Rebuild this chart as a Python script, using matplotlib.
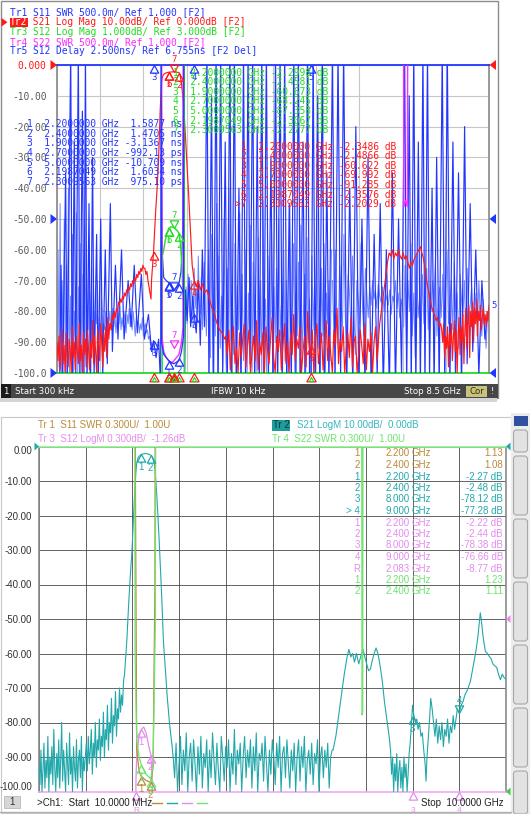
import numpy as np
import matplotlib
matplotlib.use("Agg")
import matplotlib.pyplot as plt
import matplotlib.transforms as mtransforms
from matplotlib.patches import Rectangle, Polygon, FancyBboxPatch

# =========================
# DATA (read off the two VNA screens)
# =========================
# --- top screen: 300 kHz .. 8.5 GHz, values in grid units (dB grid of Tr2)
F1_START, F1_STOP = 0.0003, 8.5

hdr_top = [
    "Tr1 S11 SWR 500.0m/ Ref 1.000 [F2]",
    "Tr2 S21 Log Mag 10.00dB/ Ref 0.000dB [F2]",
    "Tr3 S12 Log Mag 1.000dB/ Ref 3.000dB [F2]",
    "Tr4 S22 SWR 500.0m/ Ref 1.000 [F2]",
    "Tr5 S12 Delay 2.500ns/ Ref 6.755ns [F2 Del]",
]
top_ylabels = ["-100.0", "-90.00", "-80.00", "-70.00", "-60.00", "-50.00",
               "-40.00", "-30.00", "-20.00", "-10.00", "0.000"]

# Tr2 S21 (dB), noisy segments on a uniform sweep + the filter skirt
s21_seg1 = [-90, -96, -88, -99, -93, -86, -97, -91, -100, -87, -94, -98, -89, -92, -100, -85, -95, -90,
            -99, -88, -93, -97, -84, -96, -91, -100, -87, -94, -89, -98, -86, -92, -99, -90, -95, -83,
            -97, -88, -93, -100, -86, -91, -96, -84, -90, -98, -87, -93, -85, -95, -82, -89, -84]
s21_seg2 = [-84, -86, -81, -83, -80, -82, -79, -80, -77, -78, -76, -77, -75, -76, -74, -75, -73, -74,
            -72, -73, -71, -72, -70, -71, -69, -70, -68, -69, -67, -68, -66, -67, -65, -66, -66, -68,
            -67, -70, -72, -74, -76]
s21_band_f = [1.86, 1.90, 1.94, 1.97, 2.00, 2.03, 2.06, 2.08, 2.10, 2.13, 2.16, 2.20, 2.25, 2.30, 2.35,
              2.40, 2.42, 2.45, 2.48, 2.51, 2.55, 2.59, 2.62, 2.66, 2.70, 2.74, 2.78, 2.82, 2.86, 2.90,
              2.95, 3.00, 3.05, 3.10, 3.15, 3.20, 3.25, 3.30]
s21_band_v = [-70, -60.6, -48, -40, -30, -15, -5, -3.6, -3.0, -2.7, -2.5, -2.35, -2.25, -2.2, -2.3,
              -2.49, -3, -6, -11, -18, -30, -42, -52, -65, -70, -72, -70, -73, -71, -74,
              -73, -76, -79, -81, -84, -86, -87, -89]
s21_seg4 = [-88, -94, -86, -99, -90, -85, -97, -92, -100, -87, -95, -89, -84, -98, -91, -86, -100, -93,
            -88, -96, -83, -99, -90, -94, -87, -100, -85, -92, -97, -89, -82, -95, -100, -88, -93, -86,
            -99, -91, -84, -97, -90, -100, -87, -94, -81, -96, -89, -92, -85, -100, -93, -88, -98, -80,
            -91, -95, -86, -100, -89, -84, -97, -92, -87, -99, -90, -83, -96, -88, -94, -100, -86, -91,
            -79, -97, -89, -93, -85, -100, -92, -87, -95, -82, -98, -90, -88, -100, -94, -86, -91, -97,
            -84, -99, -89, -93, -87, -100, -90, -85, -96, -88]
s21_seg5 = [-84, -80, -76, -72, -68, -64, -61, -62, -60, -63, -61, -62, -60, -62, -63, -61, -63, -62,
            -64, -66, -64, -65, -63, -62, -61, -60, -59, -61, -63, -66, -70, -73, -76, -78, -80, -81,
            -83, -82, -85, -84]
s21_seg6 = [-86, -90, -84, -95, -88, -92, -85, -98, -87, -91, -84, -96, -89, -83, -93, -86, -100, -88,
            -82, -94, -85, -90, -81, -97, -86, -79, -92, -83, -78, -95, -80, -85, -77, -90, -79, -84,
            -76, -88, -80, -83, -78, -86, -82, -79, -84, -81, -85, -80, -83, -78]

# Tr3 S12 log mag (grid units)
s12t_f = [0.0003, 2.07, 2.075, 2.10, 2.13, 2.16, 2.20, 2.25, 2.30, 2.35, 2.40, 2.43, 2.46, 2.48, 2.50,
          2.503, 2.506, 8.5]
s12t_v = [-101, -101, -62, -60, -57, -55, -53, -52.5, -52.8, -53.5, -54.6, -58, -66, -75, -78, 5, -101, -101]

# Tr4 S22 SWR (grid units)
s22t_f = [0.0003, 2.06, 2.065, 2.10, 2.15, 2.20, 2.25, 2.30, 2.35, 2.40, 2.45, 2.48, 2.485, 6.82, 6.825,
          6.86, 6.895, 6.90, 8.5]
s22t_v = [5, 5, -88, -93, -95, -96, -97, -96, -95, -94, -90, -85, 5, 5, -46, -44, -46, 5, 5]

# Tr1 S11 SWR (grid units)
s11t_f = [0.0003, 2.05, 2.055, 2.10, 2.20, 2.30, 2.40, 2.45, 2.49, 2.495, 8.5]
s11t_v = [5, 5, -90, -94, -96, -97, -96, -93, -88, 5, 5]

# Tr5 S12 delay (grid units), big swings
dly_f = [0.05, 0.08, 0.11, 0.17, 0.20, 0.27, 0.30, 0.34, 0.37, 0.42, 0.45, 0.50, 0.53, 0.56, 0.59, 0.63,
         0.66, 0.70, 0.73, 0.78, 0.81, 0.86, 0.90, 0.95, 0.99, 1.05, 1.09, 1.15, 1.20, 1.27, 1.32, 1.40,
         1.46, 1.52, 1.58, 1.66, 1.72, 1.80, 1.86, 1.90,
         1.95, 2.00, 2.04, 2.05, 2.07, 2.10, 2.15, 2.20, 2.25, 2.30, 2.35, 2.40, 2.44, 2.47, 2.49, 2.51,
         2.53, 2.56, 2.60, 2.63, 2.67, 2.70, 2.74, 2.78, 2.82, 2.86, 2.90,
         2.95, 2.99, 3.04, 3.08, 3.13, 3.17, 3.22, 3.26, 3.31, 3.35, 3.40, 3.44, 3.49, 3.53, 3.58, 3.62,
         3.67, 3.71, 3.76, 3.80, 3.85, 3.89, 3.94, 3.98, 4.03, 4.07, 4.12, 4.16, 4.21, 4.25, 4.30, 4.34,
         4.39, 4.43, 4.48, 4.52, 4.57, 4.61, 4.66, 4.70, 4.75, 4.79, 4.84, 4.88, 4.93, 4.97, 5.00, 5.04,
         5.08, 5.13, 5.17, 5.22, 5.26, 5.31, 5.35,
         5.42, 5.47, 5.53, 5.58, 5.64, 5.70, 5.76, 5.82, 5.88, 5.94, 6.00, 6.06, 6.12, 6.18, 6.24, 6.30,
         6.36, 6.42, 6.48, 6.54, 6.60, 6.66, 6.72, 6.78,
         6.84, 6.88, 6.93, 6.97, 7.02, 7.06, 7.11, 7.15, 7.20, 7.24, 7.29, 7.33, 7.38, 7.42, 7.47,
         7.52, 7.58, 7.63, 7.68, 7.73, 7.79, 7.84, 7.90, 7.96, 8.02, 8.07, 8.13, 8.18, 8.24, 8.30, 8.36,
         8.42, 8.47]
dly_v = [-105, -65, -105, -35, -105, 5, -105, -25, -101, 5, -105, -15, -105, 5, -105, -45,
         -105, -30, -101, -55, -105, -50, -101, -60, -97, -45, -93, -65, -89, -60, -89, -70,
         -85, -65, -87, -68, -89, -81, -93, -89.5,
         -95, -89, -105, 5, -61, -69, -70, -70.7, -71.8, -73.1, -72.2, -71.1, -67, -57, 5, -105,
         -73, -83, -69, -85, -75, -81, -87, -70, -91, -60, -85,
         5, -105, -10, -105, 5, -105, 5, -101, -25, -105, 5, -105, 5, -105, -40, -105,
         5, -105, 5, -97, 5, -105, -20, -105, 5, -105, 5, -101, -30, -105, 5, -105,
         5, -105, 5, -105, -45, -105, 5, -105, 5, -101, -25, -105, 5, -105, -105, 5,
         -105, -10, -105, 5, -105, -35, -105,
         5, -105, 5, -101, 5, -105, -40, -105, -20, -105, -50, -105, -30, -105, -55, -101,
         -45, -105, -60, -105, -35, -105, -50, -101,
         5, -105, -10, -105, 5, -105, -25, -105, 5, -105, 5, -101, -40, -105, -30,
         -105, 5, -105, 5, -105, -25, -101, -35, -105, -20, -97, -45, -93, -60, -101, -70,
         -89, -81]
# finer (lighter) delay noise, uniform sweep segments
dlyn_seg = [
    (0.0003, 1.0, [-95, -60, -98, -45, -100, -70, -90, -50, -100, -65, -85, -40, -100, -75, -95, -55, -100,
                   -80, -90, -48, -100, -72, -88, -58, -100, -68, -92, -52, -98, -78, -86, -62, -100, -74,
                   -90, -66, -96, -80, -84, -70, -94, -82, -88, -76, -92, -84, -86, -80, -90, -83]),
    (1.02, 1.9, [-84, -80, -86, -82, -79, -85, -81, -87, -83, -80, -84, -78, -86, -82, -85, -80, -83, -87,
                 -81, -84, -79, -85, -82, -86, -80, -84, -88, -82, -85, -83, -87, -84, -86, -82, -88, -85,
                 -84, -87, -86, -89, -88, -91, -90, -94, -90]),
    (2.52, 3.0, [-80, -72, -84, -68, -78, -82, -70, -76, -85, -66, -79, -73, -83, -62, -77, -81, -69, -86,
                 -74, -64, -80, -88, -71, -60, -82]),
    (3.02, 5.4, [-95, -55, -100, -70, -88, -45, -100, -62, -92, -75, -98, -50, -85, -100, -66, -90, -40,
                 -100, -78, -94, -58, -100, -72, -86, -48, -100, -68, -96, -82, -60, -100, -74, -90, -52,
                 -100, -64, -88, -80, -100, -56, -92, -70, -100, -44, -86, -76, -100, -62, -94, -84, -54,
                 -100, -72, -90, -66, -100, -50, -88, -78, -100, -60, -96, -70, -84, -100, -46, -92, -80,
                 -58, -100, -74, -88, -64, -100, -52, -94, -82, -68, -100, -56, -90, -76, -100, -62, -86,
                 -72, -98, -48, -92, -80, -100, -66, -88, -58, -100, -74, -84, -70, -96, -60]),
    (5.42, 6.8, [-70, -88, -60, -80, -92, -65, -78, -85, -55, -82, -90, -68, -75, -86, -62, -80, -94, -70,
                 -76, -84, -58, -79, -88, -66, -74, -82, -72, -78, -70, -76, -73, -79, -71, -75, -77, -72,
                 -80, -74, -76, -78, -73, -81, -75, -77, -70, -79, -74, -82, -76, -80]),
    (6.82, 8.5, [-85, -65, -92, -70, -80, -58, -88, -74, -95, -62, -82, -76, -90, -68, -84, -72, -66, -86,
                 -74, -80, -70, -78, -64, -88, -76, -72, -82, -68, -90, -74, -60, -84, -78, -70, -86, -64,
                 -80, -74, -92, -68, -76, -82, -70, -88, -66, -84, -78, -72, -90, -80, -74, -86, -70, -82,
                 -88, -76, -84, -92, -80, -86]),
]

# top markers
mk_ghz = [2.2, 2.4, 1.9, 2.7, 5.0, 2.1987049, 2.3009563]
s21_mk = [-2.3486, -2.4866, -60.622, -69.992, -91.285, -2.3576, -2.2029]
s12_mk = [-2.2998, -2.4581, -60.673, -68.245, -87.358, -2.3067, -2.2777]
dly_mk = [1.5877, 1.4705, -3.1367, -0.99213, -10.709, 1.6034, 0.9751]   # ns
s11_mk_grid = [-96, -95, 0, 0, 0]

# --- bottom screen: 10 MHz .. 10 GHz
F2_START, F2_STOP = 0.01, 10.0
bot_ylabels = ["-100.00", "-90.00", "-80.00", "-70.00", "-60.00", "-50.00",
               "-40.00", "-30.00", "-20.00", "-10.00", "0.00"]
t_seg1 = [-92, -98, -88, -100, -94, -86, -99, -91, -96, -84, -100, -90, -95, -87, -98, -82, -93, -100,
          -89, -96, -85, -99, -91, -80, -97, -88, -94, -100, -86, -92, -98, -83, -95, -90, -100, -87,
          -93, -97, -85, -99, -91, -88, -96, -84, -100, -90, -94]
t_seg2 = [-90, -86, -94, -84, -92, -88, -82, -95, -86, -90, -80, -93, -85, -88, -79, -91, -84, -87,
          -77, -90, -82, -85, -75, -88, -80, -83, -73, -86, -78, -81, -71, -84, -76, -79, -70, -77,
          -72, -75, -68, -66]
t_band_f = [1.86, 1.89, 1.93, 1.97, 2.00, 2.03, 2.06, 2.08, 2.10, 2.13, 2.17, 2.20, 2.25, 2.30, 2.35,
            2.40, 2.43, 2.46, 2.49, 2.52, 2.55, 2.58, 2.61, 2.64, 2.67, 2.71, 2.75, 2.80, 2.85]
t_band_v = [-62, -56, -45, -36, -30, -21, -12, -8, -4.8, -3.2, -2.6, -2.27, -2.1, -2.05, -2.2,
            -2.48, -3.0, -4.2, -6, -12, -19, -27, -36, -45, -56, -64, -72, -80, -86]
t_seg3 = [-90, -96, -86, -100, -92, -84, -98, -88, -94, -83, -100, -90, -86, -97, -85, -92, -100, -87,
          -95, -84, -99, -89, -93, -85, -100, -88, -96, -83, -91, -98, -86, -94, -100, -84, -90, -97,
          -87, -93, -85, -100, -89, -95, -82, -98, -88, -92, -86, -100, -90, -84, -96, -88, -93, -85,
          -99, -87, -94, -83, -100, -89, -91, -86, -97, -84, -92, -100, -88, -95, -85, -90, -98, -86,
          -93, -84, -100, -89, -87, -96, -85, -92, -99, -88, -94, -86, -100, -90, -85, -97, -87, -93,
          -84, -100, -91, -88, -95, -86, -98, -89, -92, -85, -100, -90, -87, -96, -88, -93, -86, -99,
          -90, -88]
t_hump_f = [6.30, 6.36, 6.42, 6.48, 6.54, 6.60, 6.64, 6.68, 6.72, 6.76, 6.80, 6.85, 6.90, 6.94, 6.98,
            7.02, 7.06, 7.10, 7.14, 7.18, 7.22, 7.26, 7.30, 7.35, 7.40, 7.45, 7.50]
t_hump_v = [-88, -84, -78, -72, -66, -61, -58.8, -61, -60, -62.5, -60, -63, -60.5, -58.7, -61,
            -63, -65, -64.5, -62, -60, -58.4, -60, -63, -67.5, -74, -79, -84]
t_seg5 = [-88, -95, -90, -100, -92, -97, -89, -100, -94, -91, -99, -93, -100, -90, -96, -92, -100, -95,
          -89, -86]
t_tail_f = [7.97, 8.0, 8.03, 8.06, 8.09, 8.12, 8.15, 8.18, 8.21, 8.24, 8.27, 8.29, 8.31, 8.34, 8.37, 8.39,
            8.42, 8.45, 8.48, 8.51, 8.54, 8.57, 8.6, 8.63, 8.66, 8.69, 8.72, 8.75, 8.78, 8.81, 8.84, 8.87,
            8.9, 8.93, 8.96, 9.0, 9.04, 9.08, 9.12, 9.16, 9.2, 9.24, 9.28, 9.32, 9.36, 9.4, 9.43, 9.45,
            9.47, 9.5, 9.53, 9.56, 9.6, 9.64, 9.68, 9.72, 9.76, 9.8, 9.84, 9.88, 9.92, 9.96, 10.0]
t_tail_v = [-82, -75, -78, -80, -79, -82, -80, -84, -83, -88, -92, -97, -90, -84, -78, -73,
            -76, -80, -84, -79, -86, -81, -85, -80, -87, -82, -84, -79, -86, -81, -83, -78,
            -82, -79, -76, -77.3, -75, -74, -72, -71, -69.6, -68, -65, -62, -59, -55, -51, -48.2,
            -50, -54, -57, -59.4, -60, -60.8, -61.5, -63, -63.6, -64, -66, -67.6, -66, -67, -67.5]

b_s11_f = [0.01, 2.07, 2.075, 2.10, 2.15, 2.20, 2.30, 2.40, 2.45, 2.49, 2.495, 10.0]
b_s11_v = [3, 3, -17, -88, -94, -95.7, -96.8, -97.3, -93, -40, 3, 3]
b_s22_f = [0.01, 2.06, 2.065, 2.10, 2.15, 2.20, 2.30, 2.40, 2.45, 2.50, 2.505, 6.915, 6.92, 6.935, 6.94, 10.0]
b_s22_v = [3, 3, -60, -85, -90, -92.3, -95, -96.3, -92, -50, 3, 3, -77.8, -77, 3, 3]
b_s12_f = [0.01, 2.08, 2.085, 2.10, 2.15, 2.20, 2.25, 2.30, 2.35, 2.40, 2.43, 2.435, 10.0]
b_s12_v = [-103, -103, -96, -90, -84, -82, -81.3, -83, -86.3, -89.3, -95, -103, -103]

b_s11_mk = ([2.2, 2.4], [1.13, 1.08])
b_s21_mk = ([2.2, 2.4, 8.0, 9.0], [-2.27, -2.48, -78.12, -77.28], ["1", "2", "3", "> 4"])
b_s12_mk = ([2.2, 2.4, 8.0, 9.0, 2.083], [-2.22, -2.44, -78.38, -76.66, -8.77], ["1", "2", "3", "4", "R"])
b_s22_mk = ([2.2, 2.4], [1.23, 1.11])

# =========================
# STYLE
# =========================
MONO = "DejaVu Sans Mono"
SANS = "Liberation Sans"
C_BLUE, C_LBLUE, C_RED = "#2236ff", "#6f86ff", "#ff1a1a"
C_GREEN, C_MAG = "#22dd22", "#ff2cff"
C_BROWN, C_TEAL, C_VIO, C_LGRN = "#b88a3a", "#22a8aa", "#e38ded", "#6ee46e"
CHAR_W = 0.602 * 6.9 * 100 / 72     # mono cell width in px

W, H = 530, 814
fig = plt.figure(figsize=(W / 100, H / 100), dpi=100)


def rect(l, t, r, b):
    return [l / W, 1 - b / H, (r - l) / W, (b - t) / H]


bg = fig.add_axes([0, 0, 1, 1], zorder=0)
ax1 = fig.add_axes(rect(57, 65, 489, 373), zorder=2)
ax2 = fig.add_axes(rect(39, 446.5, 506, 791.5), zorder=2)
fg = fig.add_axes([0, 0, 1, 1], zorder=5)
for a in (bg, fg):
    a.set_xlim(0, W)
    a.set_ylim(H, 0)
    a.axis("off")


# scale conversions to the grid (ref position, ref value, per div)
def to_grid(val, ref_pos, ref_val, per_div):
    return ref_pos + (np.asarray(val, float) - ref_val) / per_div * 10


UP = [(0, 0), (-0.55, -1), (0.55, -1), (0, 0)]
DN = [(0, 0), (-0.55, 1), (0.55, 1), (0, 0)]


def mark(ax, f, v, lab, col, active=False, fam=MONO, fs=6.5):
    ax.plot([f], [v], marker=DN if active else UP, ms=11, mfc="none", mec=col, mew=0.9,
            clip_on=False, zorder=6)
    ax.annotate(lab, (f, v), xytext=(0, 9 if active else -9), textcoords="offset points",
                ha="center", va="center", color=col, fontsize=fs, family=fam, annotation_clip=False,
                zorder=6)


# =========================
# TOP SCREEN CHROME
# =========================
bg.add_patch(Rectangle((0.5, 0.5), 497, 397, fc="white", ec="#8c8c8c", lw=1.0))
bg.add_patch(Rectangle((0.5, 384), 497, 13.5, fc="#474747", ec="none"))
bg.add_patch(Rectangle((0.5, 384), 10, 13.5, fc="#1c1c1c", ec="none"))
bg.add_patch(Rectangle((466, 385.5), 21, 11, fc="#c9c27a", ec="none"))
bg.add_patch(Rectangle((0, 398), 497, 4, fc="#d4d4d4", ec="none"))

rows_top = [12.5, 22.2, 31.9, 41.6, 51.3]
hdr_cols = [C_BLUE, C_RED, C_GREEN, C_MAG, C_BLUE]
for s, y, c in zip(hdr_top, rows_top, hdr_cols):
    if s.startswith("Tr2"):
        fg.text(10 + 3 * CHAR_W, y, s[3:], color=c, family=MONO, fontsize=6.9, va="center", ha="left")
    else:
        fg.text(10, y, s, color=c, family=MONO, fontsize=6.9, va="center", ha="left")
fg.add_patch(Rectangle((9.5, 17.8), 18.5, 9, fc=C_RED, ec="none"))
fg.text(10, 22.2, "Tr2", color="white", family=MONO, fontsize=6.9, va="center", ha="left")
fg.add_patch(Polygon([(1.5, 18), (7.5, 22.2), (1.5, 26.5)], fc=C_RED, ec="none"))

bar_kw = dict(color="white", fontsize=6.2, family="DejaVu Sans", va="center")
fg.text(5.5, 391, "1", ha="center", **bar_kw)
fg.text(15, 391, "Start 300 kHz", ha="left", **bar_kw)
fg.text(238, 391, "IFBW 10 kHz", ha="center", **bar_kw)
fg.text(461, 391, "Stop 8.5 GHz", ha="right", **bar_kw)
fg.text(476.5, 391, "Cor", ha="center", color="#303010", fontsize=6.2, family="DejaVu Sans", va="center")
fg.text(492, 391, "!", ha="center", **bar_kw)

# =========================
# TOP PLOT
# =========================
ax1.set_facecolor("white")
ax1.set_xlim(F1_START, F1_STOP)
ax1.set_ylim(-100, 0)
ax1.set_xticks(np.linspace(F1_START, F1_STOP, 11))
ax1.set_yticks(np.arange(-100, 1, 10))
ax1.set_xticklabels([])
ax1.set_yticklabels(top_ylabels, family=MONO, fontsize=6.9, color="#5c5c5c")
ax1.get_yticklabels()[-1].set_color(C_RED)
ax1.tick_params(length=0, pad=7.5)
ax1.grid(True, color="#c6c6c6", lw=0.8)
for side, c in (("left", "#909090"), ("right", "#909090"), ("top", C_BLUE), ("bottom", C_GREEN)):
    ax1.spines[side].set_color(c)
    ax1.spines[side].set_linewidth(1.3)

# light delay noise
for f0, f1, vals in dlyn_seg:
    ax1.plot(np.linspace(f0, f1, len(vals)), vals, color=C_LBLUE, lw=0.7, zorder=2)
# red S21
red_f = np.concatenate([np.linspace(F1_START, 1.04, len(s21_seg1)), np.linspace(1.05, 1.85, len(s21_seg2)),
                        s21_band_f, np.linspace(3.32, 6.33, len(s21_seg4)),
                        np.linspace(6.35, 7.55, len(s21_seg5)), np.linspace(7.57, 8.5, len(s21_seg6))])
red_v = np.concatenate([s21_seg1, s21_seg2, s21_band_v, s21_seg4, s21_seg5, s21_seg6])
ax1.plot(dly_f, dly_v, color=C_BLUE, lw=0.85, zorder=3)
ax1.plot(red_f, red_v, color=C_RED, lw=0.85, zorder=3)
ax1.plot(s12t_f, s12t_v, color=C_GREEN, lw=1.0, zorder=4)
ax1.plot(s22t_f, s22t_v, color=C_MAG, lw=1.0, zorder=4)
ax1.plot(s11t_f, s11t_v, color=C_BLUE, lw=0.9, zorder=4)

# trace markers
s21_g = to_grid(s21_mk, 0, 0, 10)
s12_g = to_grid(s12_mk, 0, 3.0, 1.0)
dly_g = to_grid(dly_mk, -50, 6.755, 2.5)
for i, f in enumerate(mk_ghz):
    lab, act = str(i + 1), i == 6
    if -100 <= s21_g[i] <= 0:
        mark(ax1, f, s21_g[i], lab, C_RED, act)
    if -100 <= s12_g[i] <= 0:
        mark(ax1, f, s12_g[i], lab, C_GREEN, act)
    if -100 <= dly_g[i] <= 0:
        mark(ax1, f, dly_g[i], lab, C_BLUE, act)
for i, g in enumerate(s11_mk_grid):
    mark(ax1, mk_ghz[i], g, str(i + 1), C_BLUE)
mark(ax1, mk_ghz[6], -92, "7", C_MAG, True)

# stimulus markers under the axis
trans1 = ax1.get_xaxis_transform()
low1 = mtransforms.offset_copy(trans1, fig=fig, y=-3, units="points")
for i, f in enumerate(mk_ghz):
    ax1.plot([f], [0], marker=UP, ms=12, mfc=C_RED if i == 6 else "none", mec=C_RED, mew=0.9,
             transform=trans1, clip_on=False, zorder=6)
    ax1.plot([f], [0], marker=UP, ms=6, mfc="none", mec=C_GREEN, mew=0.8, transform=low1,
             clip_on=False, zorder=6)

# edge triangles (reference positions)
for y, c in ((65, C_RED), (219, C_BLUE), (373, C_BLUE)):
    fg.add_patch(Polygon([(50.5, y - 5), (57, y), (50.5, y + 5)], fc=c, ec="none"))
    fg.add_patch(Polygon([(496, y - 5), (489.5, y), (496, y + 5)], fc=c, ec="none"))
fg.text(494, 305, "5", color=C_BLUE, family=MONO, fontsize=6.5, ha="center", va="center")


# marker tables
def fmt5(x):
    return np.format_float_positional(x, precision=5, unique=False, fractional=False, trim="k")


rows_blue = [124, 133.7, 143.3, 153, 162.7, 172.3, 182]
rows_green = [72.7, 82.3, 91.8, 101.3, 111, 120.5, 130]
rows_red = [146.7, 156.3, 166, 175.5, 185, 194.7, 204.3]
tkw = dict(family=MONO, fontsize=6.9, va="center", ha="left")
for i, f in enumerate(mk_ghz):
    fs = f"{f:.7f}"
    ns = dly_mk[i]
    dval, dunit = (fmt5(ns * 1000), "ps") if abs(ns) < 1 else (fmt5(ns), "ns")
    fg.text(27, rows_blue[i], f"{i + 1}  {fs} GHz {dval:>7} {dunit}", color=C_BLUE, **tkw)
    fg.text(172.8, rows_green[i], f"{i + 1}  {fs} GHz {fmt5(s12_mk[i]):>7} dB", color=C_GREEN, **tkw)
    pre = ">" if i == 6 else ""
    fg.text(241.1 - CHAR_W * len(pre), rows_red[i], f"{pre}{i + 1}  {fs} GHz {fmt5(s21_mk[i]):>7} dB",
            color=C_RED, **tkw)

# =========================
# BOTTOM SCREEN CHROME
# =========================
bg.add_patch(Rectangle((0.5, 417), 510, 396, fc="white", ec="#c8c8c8", lw=0.8))
bg.add_patch(Rectangle((511, 413), 19, 401, fc="#ececec", ec="none"))
bg.add_patch(Rectangle((514, 416), 14, 10, fc="#3050a0", ec="none"))
for y0, y1 in ((430, 452), (456, 515), (519, 578), (582, 641), (645, 704), (708, 767), (771, 814)):
    bg.add_patch(FancyBboxPatch((513.5, y0), 14, y1 - y0, boxstyle="round,pad=0,rounding_size=3",
                                fc="#e2e2e2", ec="#a8a8a8", lw=0.8))
bg.plot([0, 511], [812, 812], color="#b0b0b0", lw=1.0)

hkw = dict(family=SANS, fontsize=7, va="center", ha="left")
fg.text(38.5, 425.5, "Tr 1  S11 SWR 0.300U/  1.00U", color=C_BROWN, **hkw)
fg.text(38.5, 439, "Tr 3  S12 LogM 0.300dB/  -1.26dB", color=C_VIO, **hkw)
fg.add_patch(Rectangle((271.5, 420), 18.5, 11, fc="#1e9c9c", ec="none"))
fg.text(273, 425.5, "Tr 2", color="#08383a", **hkw)
fg.text(297, 425.5, "S21 LogM 10.00dB/  0.00dB", color="#36b6bf", **hkw)
fg.text(272.5, 439, "Tr 4  S22 SWR 0.300U/  1.00U", color=C_LGRN, **hkw)

fg.add_patch(Rectangle((4, 796), 16, 12, fc="#d6d6d6", ec="#b8b8b8", lw=0.6))
fg.text(12, 802, "1", color="#303030", family=SANS, fontsize=7, ha="center", va="center")
fg.text(37, 803, ">Ch1:  Start  10.0000 MHz", color="#202020", family=SANS, fontsize=7,
        ha="left", va="center")
for x0, c in ((152, C_BROWN), (167, C_TEAL), (182, C_VIO), (197, C_LGRN)):
    fg.plot([x0, x0 + 10], [802.5, 802.5], color=c, lw=1.0)
fg.text(504, 803, "Stop  10.0000 GHz", color="#202020", family=SANS, fontsize=7, ha="right", va="center")

# =========================
# BOTTOM PLOT
# =========================
ax2.set_facecolor("white")
ax2.set_xlim(F2_START, F2_STOP)
ax2.set_ylim(-100, 0)
ax2.set_xticks(np.linspace(F2_START, F2_STOP, 11))
ax2.set_yticks(np.arange(-100, 1, 10))
ax2.set_xticklabels([])
ax2.set_yticklabels(bot_ylabels, family=SANS, fontsize=7, color="#333333")
ax2.get_yticklabels()[-1].set_verticalalignment("top")
ax2.get_yticklabels()[0].set_verticalalignment("bottom")
ax2.tick_params(length=0, pad=5)
ax2.grid(True, color="#4a4a4a", lw=0.6)
for side, c in (("left", "#8a8a8a"), ("right", "#8a8a8a"), ("top", "#8ef08e"), ("bottom", "#eeaaf4")):
    ax2.spines[side].set_color(c)
    ax2.spines[side].set_linewidth(1.2)

teal_f = np.concatenate([np.linspace(F2_START, 0.98, len(t_seg1)), np.linspace(1.0, 1.84, len(t_seg2)),
                         t_band_f, np.linspace(2.88, 6.28, len(t_seg3)), t_hump_f,
                         np.linspace(7.53, 7.95, len(t_seg5)), t_tail_f])
teal_v = np.concatenate([t_seg1, t_seg2, t_band_v, t_seg3, t_hump_v, t_seg5, t_tail_v])
ax2.plot(teal_f, teal_v, color=C_TEAL, lw=0.8, zorder=3)
ax2.plot(b_s12_f, b_s12_v, color=C_VIO, lw=0.9, zorder=4)
ax2.plot(b_s11_f, b_s11_v, color=C_BROWN, lw=0.9, zorder=4)
ax2.plot(b_s22_f, b_s22_v, color=C_LGRN, lw=0.9, zorder=4)

trans2 = ax2.get_xaxis_transform()
for f, v, lab in zip(*b_s21_mk):
    mark(ax2, f, v, lab.replace("> ", ""), C_TEAL, lab.startswith(">"), fam=SANS, fs=7)
for i, (f, v) in enumerate(zip(*b_s11_mk)):
    mark(ax2, f, to_grid(v, -100, 1.0, 0.3), str(i + 1), C_BROWN, fam=SANS, fs=7)
for i, (f, v) in enumerate(zip(*b_s22_mk)):
    mark(ax2, f, to_grid(v, -100, 1.0, 0.3), str(i + 1), C_LGRN, fam=SANS, fs=7)
for f, v, lab in zip(*b_s12_mk):
    g = to_grid(v, -50, -1.26, 0.3)
    if g >= -100:
        mark(ax2, f, g, lab, C_VIO, fam=SANS, fs=7)
    else:
        ax2.plot([f], [0], marker=UP, ms=11, mfc="none", mec=C_VIO, mew=0.9, transform=trans2,
                 clip_on=False, zorder=6)
        ax2.annotate(lab, (f, 0), xycoords=trans2, xytext=(0, -13.5), textcoords="offset points",
                     ha="center", va="center", color=C_VIO, fontsize=6, family=SANS, annotation_clip=False)

fg.add_patch(Polygon([(34.5, 442.5), (39, 446.5), (34.5, 450.5)], fc=C_TEAL, ec="none"))
fg.add_patch(Polygon([(510.5, 442.5), (506, 446.5), (510.5, 450.5)], fc=C_TEAL, ec="none"))
fg.add_patch(Polygon([(510.5, 615), (506, 619), (510.5, 623)], fc=C_VIO, ec="none"))
fg.add_patch(Polygon([(510.5, 787.5), (506, 791.5), (510.5, 795.5)], fc="#3ccc3c", ec="none"))

# bottom marker table
tab_rows = []
tab_rows += [(str(i + 1), f, f"{v:.2f}", C_BROWN) for i, (f, v) in enumerate(zip(*b_s11_mk))]
tab_rows += [(lab, f, f"{v:.2f} dB", C_TEAL) for f, v, lab in zip(*b_s21_mk)]
tab_rows += [(lab, f, f"{v:.2f} dB", C_VIO) for f, v, lab in zip(*b_s12_mk)]
tab_rows += [(str(i + 1), f, f"{v:.2f}", C_LGRN) for i, (f, v) in enumerate(zip(*b_s22_mk))]
bkw = dict(family=SANS, fontsize=7, va="center")
for i, (lab, f, val, c) in enumerate(tab_rows):
    y = 453.5 + i * 11.5
    fg.text(360, y, lab, color=c, ha="right", **bkw)
    fg.text(410, y, f"{f:.3f}", color=c, ha="right", **bkw)
    fg.text(411.5, y, "GHz", color=c, ha="left", **bkw)
    fg.text(503, y, val, color=c, ha="right", **bkw)

fig.savefig("out.png", dpi=100, facecolor="white")
